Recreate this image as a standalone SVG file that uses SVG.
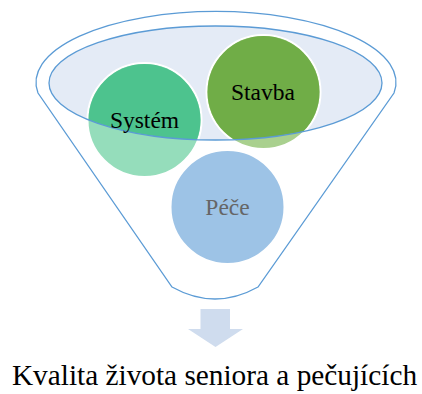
<svg xmlns="http://www.w3.org/2000/svg" width="422" height="394" viewBox="0 0 422 394">
<style>
.outline{fill:none;stroke:#5B9BD5;stroke-width:1.3}
.circ{stroke:#fff;stroke-width:2}
.lbl{font-family:'Liberation Serif','Tinos','DejaVu Serif',serif;font-size:23.5px;text-anchor:middle}
.res{font-family:'Liberation Serif','Tinos','DejaVu Serif',serif;font-size:29.3px;text-anchor:middle}
</style>
<defs>
<clipPath id="inner"><ellipse cx="215.5" cy="83" rx="166.5" ry="57"/></clipPath>
</defs>
<rect width="422" height="394" fill="#fff"/>
<g id="funnel">
<path class="outline" d="M38,93 A180,71 0 1 1 394,93 L258,287 Q215,311 172,287 Z"/>
<ellipse cx="215.5" cy="83" rx="166.5" ry="57" fill="#E4EBF6"/>
</g>
<g id="system">
<circle class="circ" cx="144.5" cy="120" r="57" fill="#95DDBB"/>
<circle cx="144.5" cy="120" r="56" fill="#4DC38E" clip-path="url(#inner)"/>
</g>
<g id="stavba">
<circle class="circ" cx="263.5" cy="92" r="57" fill="#A9D08E"/>
<circle cx="263.5" cy="92" r="56" fill="#70AD47" clip-path="url(#inner)"/>
</g>
<g id="pece">
<circle class="circ" cx="227.5" cy="207" r="57" fill="#9DC3E6"/>
</g>
<ellipse class="outline" cx="215.5" cy="83" rx="166.5" ry="57"/>
<g id="labels">
<text class="lbl" x="144.5" y="128" fill="#000">Systém</text>
<text class="lbl" x="263" y="100" fill="#000">Stavba</text>
<text class="lbl" x="227.5" y="215" fill="#666">Péče</text>
</g>
<g id="connectors">
<path d="M200.5,309 H230 V329 H243 L215.5,347 L188,329 H200.5 Z" fill="#CFDCEE"/>
</g>
<g id="result">
<text class="res" x="214.5" y="385" fill="#000">Kvalita života seniora a pečujících</text>
</g>
</svg>
